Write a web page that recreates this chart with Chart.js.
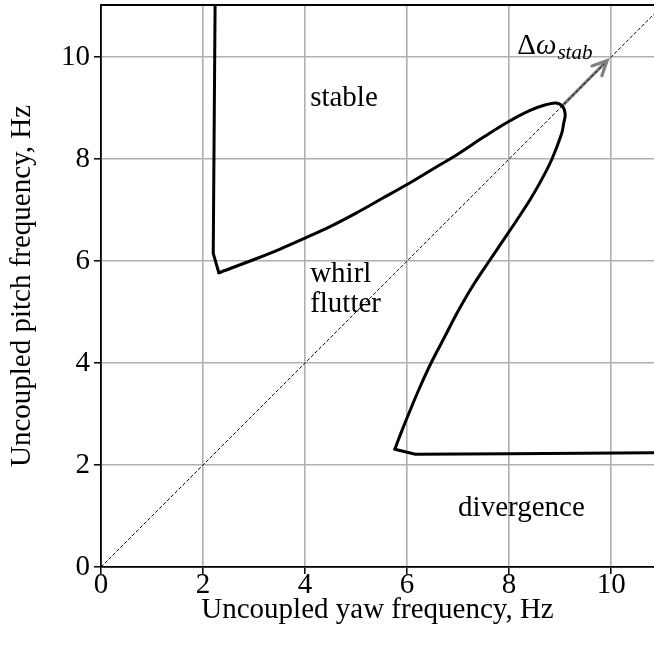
<!DOCTYPE html>
<html><head><meta charset="utf-8">
<script src="https://cdn.jsdelivr.net/npm/chart.js@4"></script>
<style>html,body{margin:0;padding:0;background:#fff}canvas{display:block}</style>
</head><body>
<div style="width:654px;height:656px"><canvas id="c" width="654" height="656"></canvas></div>
<script>
// ---- data (Hz) ----
const xTickValues = [0, 2, 4, 6, 8, 10];
const yTickValues = [0, 2, 4, 6, 8, 10];
const xTitle = 'Uncoupled yaw frequency, Hz';
const yTitle = 'Uncoupled pitch frequency, Hz';

// vertical left branch of the boundary
const stemX = [2.24, 2.20, 2.31];
const stemY = [11.5, 6.15, 5.77];
// smooth loop of the boundary (upper branch, nose, lower branch)
const loopX = [2.31, 3.0, 3.5, 4.0, 4.5, 5.0, 5.5, 6.0, 6.5, 7.0, 7.5, 8.0, 8.4, 8.7, 8.92, 9.05, 9.1, 9.07, 9.03, 8.84, 8.64, 8.41, 8.15, 7.88, 7.61, 7.28, 6.99, 6.73, 6.47, 6.24, 6.03, 5.87, 5.76];
const loopY = [5.77, 6.03, 6.23, 6.45, 6.68, 6.94, 7.22, 7.5, 7.8, 8.1, 8.43, 8.74, 8.95, 9.06, 9.1, 9.03, 8.88, 8.7, 8.5, 8.0, 7.6, 7.2, 6.8, 6.4, 6.0, 5.5, 5.0, 4.5, 4.0, 3.5, 3.0, 2.6, 2.31];
// horizontal lower branch
const tailX = [5.76, 6.16, 8.0, 11.0];
const tailY = [2.31, 2.21, 2.22, 2.24];
// diagonal (equal frequencies)
const diagX = [0, 11.5];
const diagY = [0, 11.5];
// stability margin arrow
const arrowX = [9.06, 9.92];
const arrowY = [9.06, 9.93];
// region labels
const regionText = ['stable', 'whirl', 'flutter', 'divergence'];
const regionX = [4.1, 4.1, 4.1, 7.0];
const regionY = [9.03, 5.59, 5.0, 1.0];
const marginLabelX = 8.16;
const marginLabelY = 10.06;

const pts = (xs, ys) => xs.map((x, i) => ({x, y: ys[i]}));
const FONT = 'Liberation Serif';

const overlay = {
  id: 'overlay',
  afterDatasetsDraw(chart) {
    const {ctx, chartArea: a, scales: {x, y}} = chart;
    ctx.save();
    // top spine
    ctx.strokeStyle = '#000'; ctx.lineWidth = 1.8;
    ctx.beginPath(); ctx.moveTo(a.left - 0.9, a.top); ctx.lineTo(a.right + 2, a.top); ctx.stroke();
    // arrow head
    const x0 = x.getPixelForValue(arrowX[0]), y0 = y.getPixelForValue(arrowY[0]);
    const x1 = x.getPixelForValue(arrowX[1]), y1 = y.getPixelForValue(arrowY[1]);
    const ang = Math.atan2(y1 - y0, x1 - x0);
    const L = 16, h = 0.45;
    ctx.strokeStyle = '#808080'; ctx.lineWidth = 3.2; ctx.lineCap = 'round'; ctx.lineJoin = 'miter';
    ctx.beginPath();
    ctx.moveTo(x1 - L * Math.cos(ang - h), y1 - L * Math.sin(ang - h));
    ctx.lineTo(x1, y1);
    ctx.lineTo(x1 - L * Math.cos(ang + h), y1 - L * Math.sin(ang + h));
    ctx.stroke();
    // region labels
    ctx.fillStyle = '#000'; ctx.textBaseline = 'alphabetic'; ctx.textAlign = 'left';
    ctx.font = '29px "' + FONT + '"';
    regionText.forEach((t, i) => ctx.fillText(t, x.getPixelForValue(regionX[i]), y.getPixelForValue(regionY[i])));
    // Δω_stab
    let px = x.getPixelForValue(marginLabelX), py = y.getPixelForValue(marginLabelY);
    ctx.font = '29px "' + FONT + '"';
    ctx.fillText('Δ', px, py); px += ctx.measureText('Δ').width;
    ctx.font = 'italic 29px "' + FONT + '"';
    ctx.fillText('ω', px, py); px += ctx.measureText('ω').width + 1;
    ctx.font = 'italic 21px "' + FONT + '"';
    ctx.fillText('stab', px, py + 5);
    ctx.restore();
  }
};

const tickFont = {family: FONT, size: 29, lineHeight: 1};
const titleFont = {family: FONT, size: 29, lineHeight: 1.2};
const noPad = s => { s.paddingTop = 0; s.paddingBottom = 0; s.paddingLeft = 0; s.paddingRight = 0; };

new Chart(document.getElementById('c'), {
  type: 'scatter',
  data: {
    datasets: [
      {data: pts(diagX, diagY), showLine: true, borderColor: '#000', borderWidth: 1, borderDash: [3.5, 2], pointRadius: 0, tension: 0},
      {data: pts(stemX, stemY), showLine: true, borderColor: '#000', borderWidth: 3, pointRadius: 0, tension: 0, borderCapStyle: 'round'},
      {data: pts(loopX, loopY), showLine: true, borderColor: '#000', borderWidth: 3, pointRadius: 0, tension: 0.35, borderCapStyle: 'round'},
      {data: pts(tailX, tailY), showLine: true, borderColor: '#000', borderWidth: 3, pointRadius: 0, tension: 0, borderCapStyle: 'round'},
      {data: pts(arrowX, arrowY), showLine: true, borderColor: '#808080', borderWidth: 3.2, pointRadius: 0, tension: 0}
    ]
  },
  options: {
    responsive: false, animation: false, devicePixelRatio: 1,
    layout: {padding: {top: 5, right: 0, left: 0, bottom: 0}},
    plugins: {legend: {display: false}, tooltip: {enabled: false}},
    scales: {
      x: {
        type: 'linear', min: 0, max: 10.84,
        afterFit: s => { s.height = 89; noPad(s); },
        afterBuildTicks: s => { s.ticks = xTickValues.map(v => ({value: v})); },
        ticks: {font: tickFont, color: '#000', padding: -3, includeBounds: false, maxRotation: 0},
        grid: {color: '#b0b0b0', lineWidth: 1.6, tickColor: '#000', tickLength: 7, tickWidth: 1.5},
        border: {color: '#000', width: 1.8},
        title: {display: true, text: xTitle, font: titleFont, color: '#000', padding: {top: 0, bottom: 28}}
      },
      y: {
        type: 'linear', min: 0, max: 11.02,
        afterFit: s => { s.width = 101; noPad(s); },
        afterBuildTicks: s => { s.ticks = yTickValues.map(v => ({value: v})); },
        ticks: {font: tickFont, color: '#000', padding: 4, includeBounds: false},
        grid: {color: '#b0b0b0', lineWidth: 1.6, tickColor: '#000', tickLength: 7, tickWidth: 1.5},
        border: {color: '#000', width: 1.8},
        title: {display: true, text: yTitle, font: titleFont, color: '#000', padding: {top: 5, bottom: 0}}
      }
    }
  },
  plugins: [overlay]
});
</script>
</body></html>
